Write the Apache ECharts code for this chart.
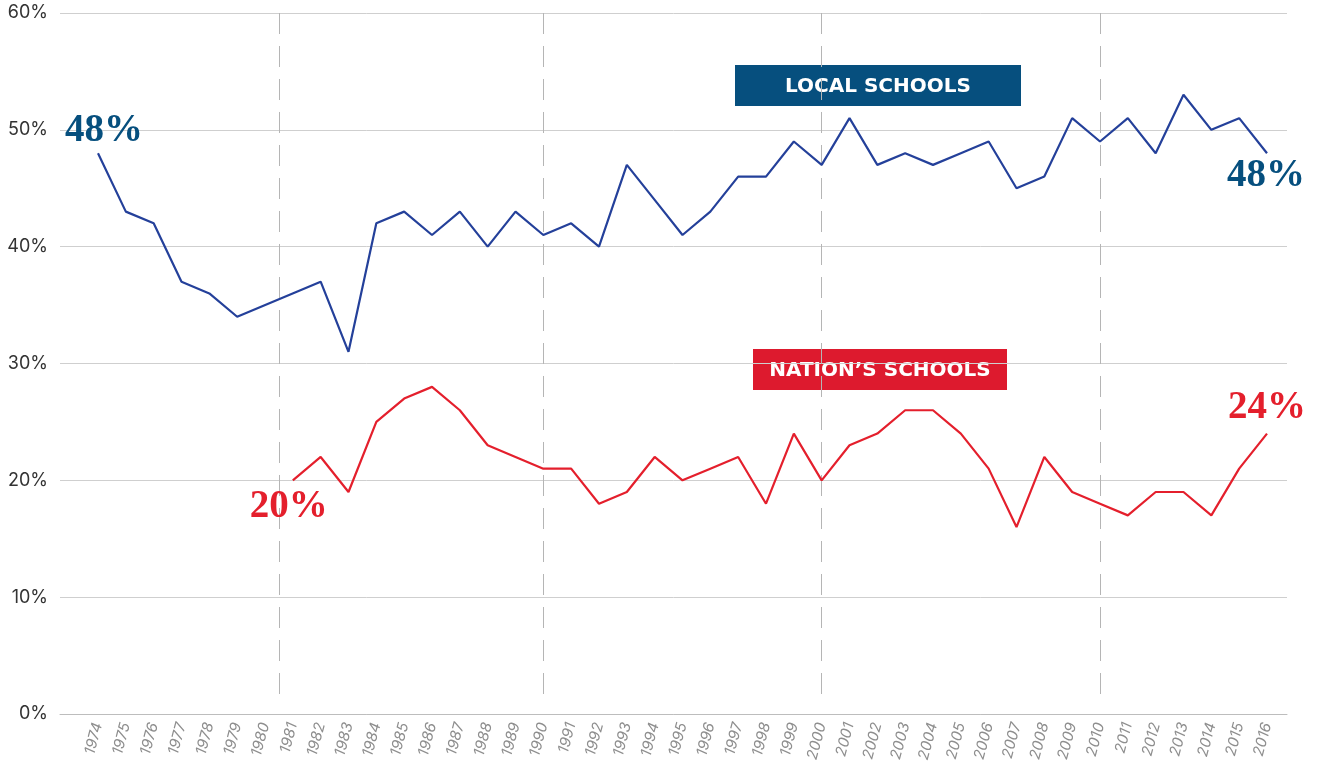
<!DOCTYPE html>
<html>
<head>
<meta charset="utf-8">
<script src="https://cdn.jsdelivr.net/npm/echarts@6/dist/echarts.min.js"></script>
<style>
  html, body { margin: 0; padding: 0; background: #fff; }
  #main { width: 1317px; height: 773px; }
</style>
</head>
<body>
<div id="main"></div>
<script>
// 数据
const localYears = [1974, 1975, 1976, 1977, 1978, 1979, 1982, 1983, 1984, 1985, 1986, 1987, 1988, 1989,
  1990, 1991, 1992, 1993, 1994, 1995, 1996, 1997, 1998, 1999, 2000, 2001, 2002, 2003, 2004, 2005,
  2006, 2007, 2008, 2009, 2010, 2011, 2012, 2013, 2014, 2015, 2016]
const localValues = [48, 43, 42, 37, 36, 34, 37, 31, 42, 43, 41, 43, 40, 43,
  41, 42, 40, 47, 44, 41, 43, 46, 46, 49, 47, 51, 47, 48, 47, 48,
  49, 45, 46, 51, 49, 51, 48, 53, 50, 51, 48]
const nationYears = [1981, 1982, 1983, 1984, 1985, 1986, 1987, 1988, 1989, 1990, 1991, 1992, 1993,
  1994, 1995, 1996, 1997, 1998, 1999, 2000, 2001, 2002, 2003, 2004, 2005, 2006, 2007, 2008,
  2009, 2010, 2011, 2012, 2013, 2014, 2015, 2016]
const nationValues = [20, 22, 19, 25, 27, 28, 26, 23, 22, 21, 21, 18, 19,
  22, 20, 21, 22, 18, 24, 20, 23, 24, 26, 26, 24, 21, 16, 22,
  19, 18, 17, 19, 19, 17, 21, 24]
const yTicks = [0, 10, 20, 30, 40, 50, 60]
const decadeLines = [1980.5, 1990, 2000, 2010]

const blue = '#24409a'
const teal = '#064f7e'
const red = '#e41f2c'

const bigLabel = (color, offset) => ({
  show: true,
  position: 'inside',
  offset: offset,
  formatter: (p) => p.value[1] + '%',
  fontFamily: 'Liberation Serif',
  fontWeight: 'bold',
  fontSize: 39,
  color: color
})

// 组装数据，首尾点带标签
const buildData = (years, values, color, firstOffset, lastOffset) => {
  return years.map((y, i) => {
    const item = { value: [y, values[i]] }
    if (i === 0) item.label = bigLabel(color, firstOffset)
    if (i === years.length - 1) item.label = bigLabel(color, lastOffset)
    return item
  })
}

const myChart = echarts.init(document.getElementById('main'))
const option = {
  animation: false,
  grid: [
    { left: 60, right: 30, top: 13, bottom: 59 },
    { left: 98, right: 50, top: 13, bottom: 59 }
  ],
  xAxis: [
    {
      gridIndex: 0, type: 'value', min: 0, max: 1,
      axisLabel: { show: false }, axisTick: { show: false }, splitLine: { show: false },
      axisLine: { show: true, lineStyle: { color: '#bdbdbd', width: 1 } }
    },
    {
      gridIndex: 1, type: 'value', min: 1974, max: 2016, interval: 1,
      axisLine: { show: false }, axisTick: { show: false }, splitLine: { show: false },
      axisLabel: {
        rotate: 75,
        margin: 9,
        color: '#8e8e8e',
        fontStyle: 'italic',
        fontFamily: 'Inter',
        fontSize: 15,
        formatter: (v) => String(v)
      }
    }
  ],
  yAxis: [
    {
      gridIndex: 0, type: 'value', min: 0, max: 60, interval: 10,
      axisLine: { show: false }, axisTick: { show: false },
      splitLine: { lineStyle: { color: '#cfcfcf', width: 1 } },
      axisLabel: {
        margin: 12,
        color: '#333',
        fontFamily: 'Inter',
        fontSize: 18,
        formatter: (v) => (yTicks.includes(v) ? v + '%' : '')
      }
    },
    {
      gridIndex: 1, type: 'value', min: 0, max: 60, interval: 10,
      show: false
    }
  ],
  graphic: [
    {
      type: 'group', left: 735, top: 65,
      children: [
        { type: 'rect', shape: { x: 0, y: 0, width: 286, height: 41 }, style: { fill: teal } },
        {
          type: 'text', x: 143, y: 22,
          style: {
            text: 'LOCAL SCHOOLS', fill: '#fff', font: 'bold 20px "DejaVu Sans"',
            align: 'center', verticalAlign: 'middle'
          }
        }
      ]
    },
    {
      type: 'group', left: 753, top: 349,
      children: [
        { type: 'rect', shape: { x: 0, y: 0, width: 254, height: 41 }, style: { fill: '#dd1a2e' } },
        {
          type: 'text', x: 127, y: 22,
          style: {
            text: 'NATION’S SCHOOLS', fill: '#fff', font: 'bold 20px "DejaVu Sans"',
            align: 'center', verticalAlign: 'middle'
          }
        }
      ]
    }
  ],
  series: [
    {
      name: 'decades',
      type: 'line',
      xAxisIndex: 1, yAxisIndex: 1,
      data: [],
      markLine: {
        silent: true,
        symbol: 'none',
        label: { show: false },
        lineStyle: { color: '#b5b5b5', width: 1, type: [21, 12] },
        // 从顶部开始画虚线
        data: decadeLines.map((x) => [{ coord: [x, 60] }, { coord: [x, 1] }])
      }
    },
    {
      name: 'Local schools',
      type: 'line',
      xAxisIndex: 1, yAxisIndex: 1,
      symbol: 'circle', symbolSize: 0, showSymbol: true,
      lineStyle: { color: blue, width: 2.2 },
      itemStyle: { color: blue },
      data: buildData(localYears, localValues, teal, [6, -22], [-1, 23]),
      z: 5
    },
    {
      name: "Nation's schools",
      type: 'line',
      xAxisIndex: 1, yAxisIndex: 1,
      symbol: 'circle', symbolSize: 0, showSymbol: true,
      lineStyle: { color: red, width: 2.2 },
      itemStyle: { color: red },
      data: buildData(nationYears, nationValues, red, [-4, 27], [0, -26]),
      z: 5
    }
  ]
}
myChart.setOption(option)
</script>
</body>
</html>
